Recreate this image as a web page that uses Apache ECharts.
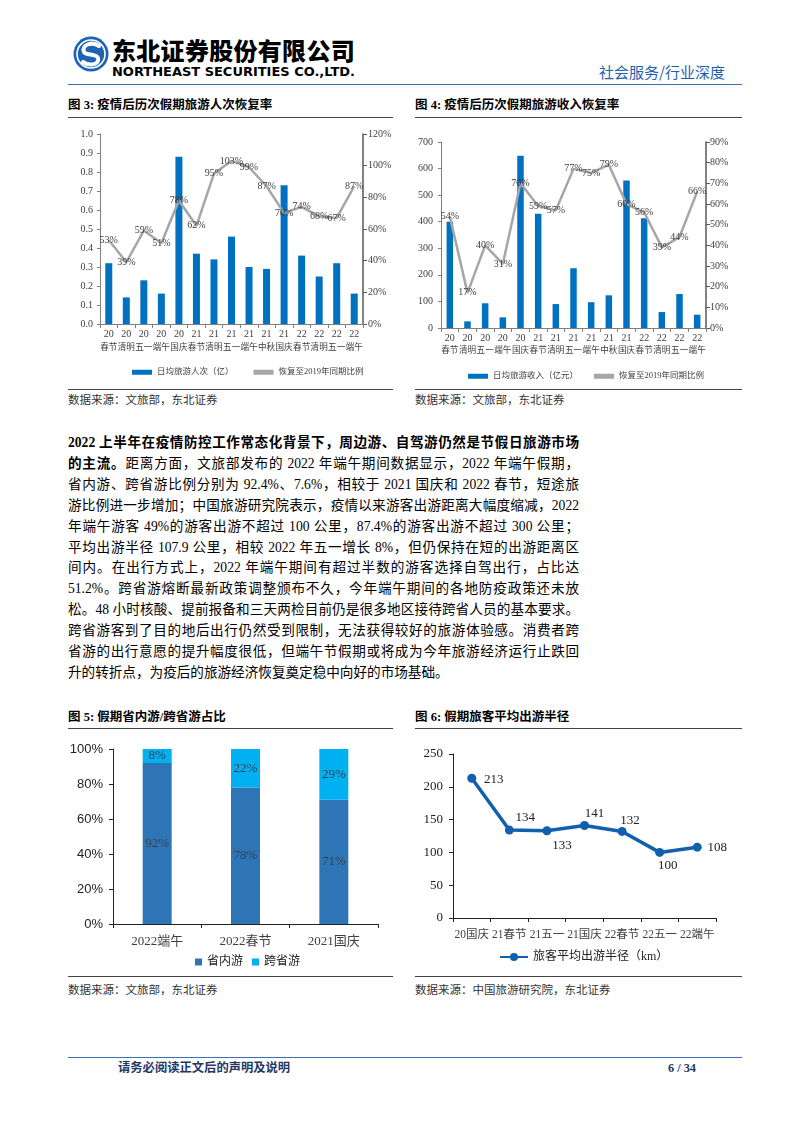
<!DOCTYPE html>
<html>
<head>
<meta charset="utf-8">
<script src="https://cdn.jsdelivr.net/npm/echarts@6/dist/echarts.min.js"></script>
<style>
html,body{margin:0;padding:0;background:#fff;}
body{width:802px;height:1133px;position:relative;overflow:hidden;font-family:"Liberation Serif","Noto Sans CJK SC",serif;color:#000;}
.abs{position:absolute;white-space:nowrap;}
.title{font-size:12.5px;font-weight:bold;line-height:16px;}
.src{font-size:11.5px;line-height:14px;color:#333;}
.hr{position:absolute;height:0;border-top:1px solid #444;}
.pl{position:absolute;left:68px;width:511px;font-size:13.6px;line-height:20px;text-align:justify;text-align-last:justify;white-space:nowrap;}
.pl.last{text-align-last:left;}
b{font-weight:bold;}
#chart{position:absolute;left:0;top:0;width:802px;height:1133px;z-index:2;}
</style>
</head>
<body>
<!-- header -->
<svg class="abs" style="left:72px;top:35px" width="40" height="40" viewBox="0 0 40 40">
  <circle cx="19" cy="19" r="17.5" fill="#1E62B4"/>
  <circle cx="19" cy="19" r="14" fill="none" stroke="#fff" stroke-width="1.6"/>
  <path d="M27 11 C20 6 9 10 12 17 C14 21 24 18 26 23 C28 29 18 32 11 27" fill="none" stroke="#fff" stroke-width="4" stroke-linecap="round"/>
</svg>
<div class="abs" style="left:112px;top:35px;font-family:'Noto Sans CJK SC';font-weight:900;font-size:24px;line-height:30px;letter-spacing:0.3px;">东北证券股份有限公司</div>
<svg class="abs" style="left:112px;top:63px" width="250" height="16"><text x="0" y="13" textLength="243" lengthAdjust="spacingAndGlyphs" font-family="DejaVu Sans" font-weight="bold" font-size="13">NORTHEAST SECURITIES CO.,LTD.</text></svg>
<div class="abs" style="left:599px;top:62px;font-family:'Noto Sans CJK SC';font-size:15px;line-height:20px;color:#1F5FAD;">社会服务/行业深度</div>
<div class="hr" style="left:68px;top:84px;width:674px;border-top:1.5px solid #3A70B8;"></div>

<!-- figure titles top -->
<div class="abs title" style="left:68px;top:97px;">图 3: 疫情后历次假期旅游人次恢复率</div>
<div class="abs title" style="left:415px;top:97px;">图 4: 疫情后历次假期旅游收入恢复率</div>
<div class="hr" style="left:68px;top:117px;width:325px;"></div>
<div class="hr" style="left:415px;top:117px;width:327px;"></div>
<div class="hr" style="left:68px;top:389px;width:325px;"></div>
<div class="hr" style="left:415px;top:389px;width:327px;"></div>
<div class="abs src" style="left:68px;top:393px;">数据来源：文旅部，东北证券</div>
<div class="abs src" style="left:415px;top:393px;">数据来源：文旅部，东北证券</div>

<!-- paragraph -->
<div class="pl" style="top:433px;"><b>2022 上半年在疫情防控工作常态化背景下，周边游、自驾游仍然是节假日旅游市场</b></div>
<div class="pl" style="top:454px;"><b>的主流。</b>距离方面，文旅部发布的 2022 年端午期间数据显示，2022 年端午假期，</div>
<div class="pl" style="top:475px;">省内游、跨省游比例分别为 92.4%、7.6%，相较于 2021 国庆和 2022 春节，短途旅</div>
<div class="pl" style="top:496px;">游比例进一步增加；中国旅游研究院表示，疫情以来游客出游距离大幅度缩减，2022</div>
<div class="pl" style="top:517px;">年端午游客 49%的游客出游不超过 100 公里，87.4%的游客出游不超过 300 公里；</div>
<div class="pl" style="top:538px;">平均出游半径 107.9 公里，相较 2022 年五一增长 8%，但仍保持在短的出游距离区</div>
<div class="pl" style="top:558px;">间内。在出行方式上，2022 年端午期间有超过半数的游客选择自驾出行，占比达</div>
<div class="pl" style="top:579px;">51.2%。跨省游熔断最新政策调整颁布不久，今年端午期间的各地防疫政策还未放</div>
<div class="pl" style="top:600px;">松。48 小时核酸、提前报备和三天两检目前仍是很多地区接待跨省人员的基本要求。</div>
<div class="pl" style="top:621px;">跨省游客到了目的地后出行仍然受到限制，无法获得较好的旅游体验感。消费者跨</div>
<div class="pl" style="top:642px;">省游的出行意愿的提升幅度很低，但端午节假期或将成为今年旅游经济运行止跌回</div>
<div class="pl last" style="top:663px;">升的转折点，为疫后的旅游经济恢复奠定稳中向好的市场基础。</div>

<!-- figure titles bottom -->
<div class="abs title" style="left:68px;top:709px;">图 5: 假期省内游/跨省游占比</div>
<div class="abs title" style="left:415px;top:709px;">图 6: 假期旅客平均出游半径</div>
<div class="hr" style="left:68px;top:728px;width:325px;"></div>
<div class="hr" style="left:415px;top:728px;width:327px;"></div>
<div class="hr" style="left:68px;top:976px;width:325px;"></div>
<div class="hr" style="left:415px;top:976px;width:327px;"></div>
<div class="abs src" style="left:68px;top:983px;">数据来源：文旅部，东北证券</div>
<div class="abs src" style="left:415px;top:983px;">数据来源：中国旅游研究院，东北证券</div>

<!-- footer -->
<div class="hr" style="left:68px;top:1057px;width:674px;border-top:1px solid #3A70B8;"></div>
<div class="abs" style="left:118px;top:1061px;font-size:12.3px;font-weight:bold;line-height:15px;color:#1F3864;">请务必阅读正文后的声明及说明</div>
<div class="abs" style="left:668px;top:1061px;font-size:12.3px;font-weight:bold;line-height:15px;color:#1F3864;">6 / 34</div>

<div id="chart"></div>
<script>
// ---------- data ----------
const years = ['20','20','20','20','20','21','21','21','21','21','21','22','22','22','22'];
const holidays = ['春节','清明','五一','端午','国庆','春节','清明','五一','端午','中秋','国庆','春节','清明','五一','端午'];
const dailyTrips = [0.32,0.14,0.23,0.16,0.88,0.37,0.34,0.46,0.30,0.29,0.73,0.36,0.25,0.32,0.16];
const tripsRecovery = [53,39,59,51,78,62,95,103,99,87,70,74,68,67,87];
const dailyIncome = [400,25,93,40,648,430,90,225,97,123,555,413,60,128,50];
const incomeRecovery = [54,17,40,31,70,59,57,77,75,79,60,56,39,44,66];

const shareCats = ['2022端午','2022春节','2021国庆'];
const inProvince = [92,78,71];
const crossProvince = [8,22,29];

const radiusCats = ['20国庆','21春节','21五一','21国庆','22春节','22五一','22端午'];
const radiusVals = [213,134,133,141,132,100,108];
const radiusLabelOffsets = [[22,1],[16,-13],[15,15],[10,-12],[8,-11],[8,13],[20,0]];

const catLabels = years.map((y,i)=> y + '|' + holidays[i]);

// ---------- chart ----------
const chart = echarts.init(document.getElementById('chart'), null, {renderer:'canvas'});
const SERIF = '"Liberation Serif","Noto Sans CJK SC",serif';
const txt = '#404040';

function catAxis(grid, data, font, lh, margin, lineColor){
  return {type:'category', gridIndex:grid, data:data,
    axisLine:{show:true, lineStyle:{color:lineColor, width:1}},
    axisTick:{show:true, interval:0, length:4, lineStyle:{color:lineColor}},
    axisLabel:{interval:0, fontFamily:SERIF, fontSize:font, lineHeight:lh, color:txt, margin:margin}};
}
function holidayAxis(grid, lh1, lh2, margin){
  const a = catAxis(grid, catLabels, 10, lh1, margin, '#7f7f7f');
  a.axisLabel.formatter = v => { const p = v.split('|'); return '{y|' + p[0] + '}\n{h|' + p[1] + '}'; };
  a.axisLabel.rich = {
    y:{fontFamily:SERIF, fontSize:10, lineHeight:lh1, color:txt},
    h:{fontFamily:SERIF, fontSize:8.6, lineHeight:lh2, color:txt}
  };
  return a;
}

const option = {
  animation:false,
  backgroundColor:'transparent',
  grid:[
    {left:100, top:134, width:263, height:190},
    {left:441, top:142, width:265, height:186},
    {left:113, top:749, width:265, height:175},
    {left:453, top:754, width:263, height:164}
  ],
  xAxis:[
    holidayAxis(0, 14, 14, 3),
    holidayAxis(1, 12.5, 12.5, 4),
    catAxis(2, shareCats, 13, 16, 10, '#222'),
    catAxis(3, radiusCats, 11.5, 16, 9, '#222')
  ],
  yAxis:[
    {type:'value', gridIndex:0, min:0, max:1.0, interval:0.1, position:'left',
      axisLine:{show:true, lineStyle:{color:'#7f7f7f'}}, axisTick:{show:true, length:3, lineStyle:{color:'#7f7f7f'}},
      splitLine:{show:false},
      axisLabel:{fontFamily:SERIF, fontSize:10, color:txt, margin:7, formatter:v=>v.toFixed(1)}},
    {type:'value', gridIndex:0, min:0, max:120, interval:20, position:'right',
      axisLine:{show:true, lineStyle:{color:'#595959', width:1.5}}, axisTick:{show:true, length:4, lineStyle:{color:'#595959'}},
      splitLine:{show:false},
      axisLabel:{fontFamily:SERIF, fontSize:10, color:txt, margin:5, formatter:'{value}%'}},
    {type:'value', gridIndex:1, min:0, max:700, interval:100, position:'left',
      axisLine:{show:true, lineStyle:{color:'#7f7f7f'}}, axisTick:{show:true, length:3, lineStyle:{color:'#7f7f7f'}},
      splitLine:{show:false},
      axisLabel:{fontFamily:SERIF, fontSize:10, color:txt, margin:8}},
    {type:'value', gridIndex:1, min:0, max:90, interval:10, position:'right',
      axisLine:{show:true, lineStyle:{color:'#595959', width:1.5}}, axisTick:{show:true, length:4, lineStyle:{color:'#595959'}},
      splitLine:{show:false},
      axisLabel:{fontFamily:SERIF, fontSize:10, color:txt, margin:4, formatter:'{value}%'}},
    {type:'value', gridIndex:2, min:0, max:100, interval:20,
      axisLine:{show:true, lineStyle:{color:'#222'}}, axisTick:{show:true, length:4, lineStyle:{color:'#222'}},
      splitLine:{show:false},
      axisLabel:{fontFamily:'"Liberation Sans",sans-serif', fontSize:13, color:'#222', margin:10, formatter:'{value}%'}},
    {type:'value', gridIndex:3, min:0, max:250, interval:50,
      axisLine:{show:true, lineStyle:{color:'#222'}}, axisTick:{show:true, length:4, lineStyle:{color:'#222'}},
      splitLine:{show:false},
      axisLabel:{fontFamily:SERIF, fontSize:13, color:'#222', margin:10}}
  ],
  legend:[
    {left:127, top:363, itemWidth:20, itemHeight:5, itemGap:20, icon:'rect',
      textStyle:{fontFamily:SERIF, fontSize:8.5, color:txt},
      data:['日均旅游人次（亿）','恢复至2019年同期比例']},
    {left:463, top:367, itemWidth:20, itemHeight:5, itemGap:16, icon:'rect',
      textStyle:{fontFamily:SERIF, fontSize:8.5, color:txt},
      data:['日均旅游收入（亿元）',{name:'恢复至2019年同期比例 ', icon:'rect'}]},
    {left:190, top:951, itemWidth:7, itemHeight:7, itemGap:9, icon:'rect',
      textStyle:{fontFamily:SERIF, fontSize:12, color:'#222'},
      data:['省内游','跨省游']},
    {left:494, top:946, itemWidth:28, itemHeight:10, itemGap:10,
      textStyle:{fontFamily:SERIF, fontSize:12, color:'#222'},
      data:['旅客平均出游半径（km）']}
  ],
  series:[
    {name:'日均旅游人次（亿）', type:'bar', xAxisIndex:0, yAxisIndex:0, data:dailyTrips, barWidth:7,
      itemStyle:{color:'#0070C0'}},
    {name:'恢复至2019年同期比例', type:'line', xAxisIndex:0, yAxisIndex:1, data:tripsRecovery,
      symbol:'circle', symbolSize:1, lineStyle:{color:'#A6A6A6', width:2.5}, itemStyle:{color:'#A6A6A6'},
      label:{show:true, position:'inside', formatter:'{c}%', fontFamily:SERIF, fontSize:10, color:txt}},
    {name:'日均旅游收入（亿元）', type:'bar', xAxisIndex:1, yAxisIndex:2, data:dailyIncome, barWidth:6.5,
      itemStyle:{color:'#0070C0'}},
    {name:'恢复至2019年同期比例 ', type:'line', xAxisIndex:1, yAxisIndex:3, data:incomeRecovery,
      symbol:'circle', symbolSize:1, lineStyle:{color:'#A6A6A6', width:2.5}, itemStyle:{color:'#A6A6A6'},
      label:{show:true, position:'inside', formatter:'{c}%', fontFamily:SERIF, fontSize:10, color:txt}},
    {name:'省内游', type:'bar', stack:'s', xAxisIndex:2, yAxisIndex:4, data:inProvince, barWidth:29,
      itemStyle:{color:'#2E75B6'},
      label:{show:true, position:'inside', formatter:'{c}%', fontFamily:SERIF, fontSize:13, color:'#3A3F4A'}},
    {name:'跨省游', type:'bar', stack:'s', xAxisIndex:2, yAxisIndex:4, data:crossProvince, barWidth:29,
      itemStyle:{color:'#00B0F0'},
      label:{show:true, position:'inside', formatter:'{c}%', fontFamily:SERIF, fontSize:13, color:'#3A3F4A'}},
    {name:'旅客平均出游半径（km）', type:'line', xAxisIndex:3, yAxisIndex:5,
      data:radiusVals.map((v,i)=>({value:v, label:{offset:radiusLabelOffsets[i]}})),
      symbol:'circle', symbolSize:9, lineStyle:{color:'#1060AE', width:3.5}, itemStyle:{color:'#1060AE'},
      label:{show:true, position:'inside', fontFamily:SERIF, fontSize:13, color:'#222'}}
  ]
};
chart.setOption(option);
</script>
</body>
</html>
